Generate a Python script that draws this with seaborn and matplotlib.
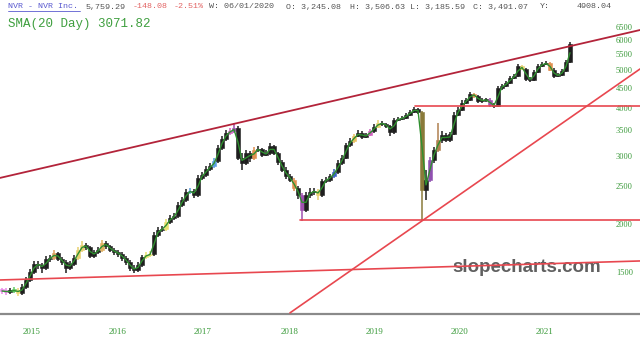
import numpy as np
import pandas as pd
import seaborn as sns
import matplotlib.pyplot as plt
from matplotlib.lines import Line2D

# NVR closes, one candle every ~2.4 weeks
closes = [1339, 1331, 1339, 1347, 1323, 1371, 1430, 1500, 1573, 1564,
          1536, 1621, 1631, 1680, 1621, 1592, 1536, 1573, 1631, 1711,
          1762, 1742, 1650, 1690, 1711, 1784, 1752, 1711, 1690, 1670,
          1631, 1592, 1536, 1518, 1564, 1641, 1660, 1670, 1871, 1928,
          1940, 2022, 2071, 2096, 2238, 2306, 2419, 2434, 2376, 2630,
          2678, 2775, 2826, 2911, 3146, 3320, 3441, 3483, 3545, 2964,
          2877, 3054, 2964, 3109, 3128, 3017, 3054, 3184, 3054, 2894,
          2759, 2662, 2599, 2478, 2376, 2172, 2376, 2419, 2434, 2376,
          2583, 2599, 2662, 2726, 2877, 2964, 3203, 3280, 3380, 3441,
          3360, 3400, 3483, 3567, 3653, 3631, 3588, 3462, 3719, 3741,
          3764, 3832, 3901, 3972, 3901, 2448, 2599, 2929, 3109, 3300,
          3400, 3300, 3420, 3832, 3948, 4117, 4191, 4344, 4293, 4166,
          4191, 4191, 4068, 4044, 4503, 4557, 4639, 4780, 4837, 5135,
          5044, 4752, 4723, 4954, 5135, 5196, 5228, 5014, 4837, 4866,
          4984, 5259, 5856]
highs = [1365, 1360, 1365, 1370, 1360, 1395, 1455, 1525, 1600, 1600,
         1580, 1650, 1665, 1710, 1690, 1640, 1610, 1605, 1660, 1740,
         1800, 1785, 1755, 1715, 1740, 1820, 1800, 1765, 1730, 1710,
         1690, 1650, 1610, 1560, 1590, 1665, 1690, 1700, 1900, 1960,
         1975, 2055, 2105, 2130, 2275, 2345, 2460, 2470, 2460, 2670,
         2720, 2820, 2870, 2960, 3200, 3380, 3500, 3545, 3660, 3580,
         3050, 3100, 3090, 3160, 3180, 3150, 3100, 3240, 3210, 3080,
         2930, 2800, 2700, 2630, 2510, 2400, 2420, 2470, 2480, 2460,
         2620, 2640, 2700, 2770, 2920, 3010, 3250, 3330, 3430, 3500,
         3480, 3450, 3530, 3620, 3710, 3690, 3660, 3610, 3770, 3790,
         3810, 3880, 3950, 4030, 4000, 3920, 2760, 2980, 3160, 3650,
         3480, 3440, 3470, 3890, 4010, 4180, 4250, 4400, 4380, 4330,
         4250, 4250, 4230, 4110, 4560, 4620, 4700, 4840, 4900, 5200,
         5180, 5080, 4800, 5010, 5200, 5260, 5290, 5260, 5060, 4920,
         5040, 5320, 5930]
lows = [1315, 1310, 1315, 1325, 1300, 1310, 1355, 1415, 1485, 1530,
        1495, 1520, 1595, 1615, 1600, 1565, 1490, 1515, 1555, 1615,
        1695, 1715, 1630, 1635, 1670, 1695, 1725, 1690, 1665, 1645,
        1605, 1565, 1505, 1490, 1500, 1545, 1620, 1640, 1650, 1850,
        1900, 1915, 2000, 2050, 2075, 2210, 2280, 2390, 2340, 2350,
        2600, 2650, 2740, 2790, 2880, 3110, 3280, 3400, 3440, 2920,
        2760, 2840, 2900, 2930, 3070, 2980, 2990, 3020, 3010, 2840,
        2720, 2620, 2560, 2440, 2320, 2040, 2150, 2340, 2380, 2310,
        2350, 2550, 2570, 2630, 2700, 2850, 2940, 3170, 3250, 3350,
        3320, 3330, 3370, 3450, 3540, 3590, 3550, 3380, 3430, 3690,
        3710, 3740, 3800, 3870, 3850, 2034, 2300, 2560, 2880, 3080,
        3250, 3260, 3270, 3400, 3800, 3920, 4080, 4160, 4240, 4120,
        4120, 4130, 4020, 3990, 4020, 4460, 4520, 4600, 4740, 4800,
        5000, 4700, 4670, 4700, 4920, 5100, 5160, 4970, 4790, 4800,
        4830, 4950, 5230]
first_open = 1345

year_labels = ['2015', '2016', '2017', '2018', '2019', '2020', '2021']
year_pos = [7.5, 29, 50.25, 72, 93.25, 114.5, 135.75]
price_ticks = [1500, 2000, 2500, 3000, 3500, 4000, 4500, 5000, 5500, 6000, 6500]

# drawn trend lines, (period, price) end points
upper_line = [(-0.5, 2631), (159.5, 6365)]
lower_line = [(-0.5, 1430), (159.5, 1602)]
resist_line = [(103.25, 4044), (159.5, 4044)]
support_line = [(74.5, 2046), (159.5, 2046)]
rising_line = [(72, 1175), (159.5, 5043)]

header = [('NVR - NVR Inc.', 8, '#5b5bd0'), ('5,759.29', 86, '#555555'),
          ('-148.08', 133, '#e26464'), ('-2.51%', 174, '#e26464'),
          ('W: 06/01/2020', 209, '#555555'), ('O: 3,245.08', 286, '#555555'),
          ('H: 3,506.63', 350, '#555555'), ('L: 3,185.59', 410, '#555555'),
          ('C: 3,491.07', 473, '#555555'), ('Y:', 540, '#555555'),
          ('4908.04', 577, '#555555')]
sma_text = 'SMA(20 Day) 3071.82'

# pattern highlight colours on a few candles
highlight = {0: '#e88ae8', 1: '#e88ae8', 3: '#66cc66', 4: '#f0d878', 13: '#e0a060',
             19: '#e8d070', 20: '#e8d070', 25: '#e0b060', 36: '#e8e070', 37: '#e8e070',
             41: '#e8e070', 47: '#5a9ee0', 53: '#5a9ee0', 57: '#d060c0', 58: '#a050b0',
             63: '#e09050', 73: '#e09050', 75: '#a050b0', 79: '#e8d070', 83: '#3a60c0',
             88: '#e8c060', 92: '#d060c0', 94: '#e8d070', 105: '#8a7a3a', 107: '#9050b0',
             109: '#b08050', 118: '#e09050', 122: '#a050b0', 130: '#e8d070', 137: '#e09050'}

df = pd.DataFrame({'period': np.arange(len(closes)), 'close': closes,
                   'high': highs, 'low': lows})
df['open'] = [first_open] + closes[:-1]
df['sma'] = df['close'].rolling(2, min_periods=1).mean()
cols = [highlight.get(i, '#1e1e1e') for i in df['period']]

sns.set_style('white')
plt.rcParams['font.family'] = ['Liberation Serif', 'DejaVu Serif']

fig = plt.figure(figsize=(6.4, 3.45), dpi=100)
ax = fig.add_axes([0, 31 / 345, 1, 314 / 345])
ax.set_yscale('log')

# candles
ax.vlines(df['period'], df['low'], df['high'], colors=cols, lw=1.1, zorder=2)
body_lo = np.minimum(df['open'], df['close'])
body_h = np.abs(df['close'] - df['open']).clip(lower=12)
ax.bar(df['period'], body_h, bottom=body_lo, width=0.85, color=cols,
       edgecolor=cols, lw=0.4, zorder=2)

sns.lineplot(data=df, x='period', y='sma', color='#2f8f2f', lw=1.0, ax=ax, zorder=3)

for line, c, w in [(upper_line, '#b3243a', 1.3), (lower_line, '#e8474f', 1.2),
                   (resist_line, '#e8474f', 1.2), (support_line, '#e8474f', 1.2),
                   (rising_line, '#e8474f', 1.2)]:
    xs, ys = zip(*line)
    ax.plot(xs, ys, color=c, lw=w, zorder=4)

ax.set_xlim(-0.5, 159.5)
ax.set_ylim(1167, 7615)
ax.yaxis.set_minor_locator(plt.NullLocator())
ax.set_yticks(price_ticks, labels=[str(t) for t in price_ticks])
ax.yaxis.tick_right()
ax.tick_params(axis='y', length=0, pad=-17.3, labelsize=6, labelcolor='#3a9a3a')
ax.set_xticks(year_pos, labels=year_labels)
ax.tick_params(axis='x', length=0, pad=10, labelsize=6.5, labelcolor='#3a9a3a')
ax.set_xlabel('')
ax.set_ylabel('')
for s in ['top', 'left', 'right']:
    ax.spines[s].set_visible(False)
ax.spines['bottom'].set_color('#8a8a8a')
ax.spines['bottom'].set_linewidth(1.6)

ax.text(452 / 640, 1 - 268 / 345, 'slopecharts.com', transform=fig.transFigure,
        ha='left', va='center', fontsize=13.5, fontweight='bold', color='#606060',
        family='Liberation Sans', zorder=1)

for txt, x, c in header:
    fig.text(x / 640, 1 - 7 / 345, txt, ha='left', va='center', fontsize=6,
             color=c, family='Liberation Mono')
fig.add_artist(Line2D([8 / 640, 80 / 640], [1 - 11 / 345] * 2,
                      transform=fig.transFigure, color='#5b5bd0', lw=0.6))
fig.text(8 / 640, 1 - 24 / 345, sma_text, ha='left', va='center', fontsize=9,
         color='#3f9f3f', family='Liberation Mono')

fig.savefig('out.png', dpi=100)
